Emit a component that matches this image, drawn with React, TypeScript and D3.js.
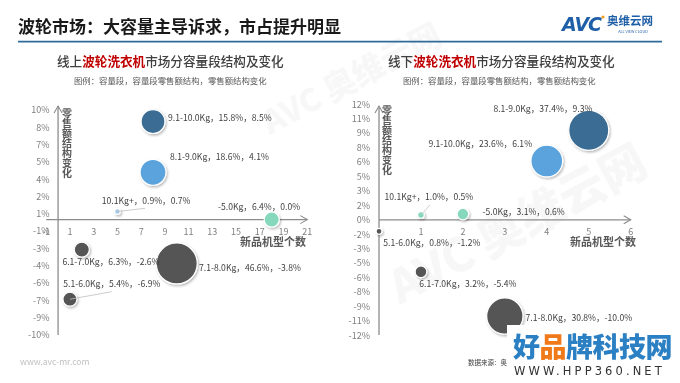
import React from "react";
import * as d3 from "d3";

// ---------- data ----------
const onlineSegments = ["9.1-10.0Kg", "8.1-9.0Kg", "10.1Kg+", "-5.0Kg", "6.1-7.0Kg", "7.1-8.0Kg", "5.1-6.0Kg"];
const onlineModels = [8, 8, 5, 18, 2, 10, 1];
const onlineShare = [15.8, 18.6, 0.9, 6.4, 6.3, 46.6, 5.4];
const onlineChange = [8.5, 4.1, 0.7, 0.0, -2.6, -3.8, -6.9];
const onlineYTicks = ["-10%", "-9%", "-7%", "-6%", "-4%", "-3%", "-1%", "1%", "2%", "4%", "5%", "7%", "8%", "10%"];
const onlineXTicks = [-1, 1, 3, 5, 7, 9, 11, 13, 15, 17, 19, 21];

const offlineSegments = ["8.1-9.0Kg", "9.1-10.0Kg", "10.1Kg+", "-5.0Kg", "5.1-6.0Kg", "6.1-7.0Kg", "7.1-8.0Kg"];
const offlineModels = [5, 4, 1, 2, 0, 1, 3];
const offlineShare = [37.4, 23.6, 1.0, 3.1, 0.8, 3.2, 30.8];
const offlineChange = [9.3, 6.1, 0.5, 0.6, -1.2, -5.4, -10.0];
const offlineYTicks = ["-12%", "-11%", "-9%", "-8%", "-6%", "-5%", "-3%", "-2%", "0%", "2%", "3%", "5%", "6%", "8%", "9%", "11%", "12%"];
const offlineXTicks = [0, 1, 2, 3, 4, 5, 6];

// ---------- styles / layout ----------
const FONT = "'Noto Sans CJK SC', 'Microsoft YaHei', sans-serif";
const C_DARK = "#3a6d94";
const C_LIGHT = "#5aa3dc";
const C_PALE = "#a9c9ea";
const C_MINT = "#86d8bc";
const C_GRAY = "#555555";

type Panel = {
  segments: string[];
  models: number[];
  share: number[];
  change: number[];
  yTicks: string[];
  yTickStart: number;
  yTickStep: number;
  xTicks: number[];
  xDomain: [number, number];
  xRange: [number, number];
  yDomain: [number, number];
  yRange: [number, number];
  yAxisTop: number;
  yAxisBottom: number;
  maxR: number;
  colors: string[];
  labelOffsets: [number, number][];
  leaders: ([number, number] | null)[];
  title: string;
  titleX: number;
  legendX: number;
  yTitleX: number;
  yTitleTop: number;
  xTitleEnd: number;
  yTickX: number;
};

const online: Panel = {
  segments: onlineSegments,
  models: onlineModels,
  share: onlineShare,
  change: onlineChange,
  yTicks: onlineYTicks,
  yTickStart: -10,
  yTickStep: 1.5,
  xTicks: onlineXTicks,
  xDomain: [-1, 21],
  xRange: [46.2, 307.3],
  yDomain: [-10, 9.5],
  yRange: [335, 110],
  yAxisTop: 106,
  yAxisBottom: 335,
  maxR: 20.5,
  colors: [C_DARK, C_LIGHT, C_PALE, C_MINT, C_GRAY, C_GRAY, C_GRAY],
  labelOffsets: [[15, -3.5], [17, -15.5], [-15.6, -10.5], [-53.7, -13.3], [-19.4, 12.3], [22.3, 4.3], [-6.7, -15]],
  leaders: [null, null, [145, 208.3], null, null, null, [111.7, 291.7]],
  title: "线上",
  titleX: 57,
  legendX: 74,
  yTitleX: 67,
  yTitleTop: 108,
  xTitleEnd: 306,
  yTickX: 49.5,
};

const offline: Panel = {
  segments: offlineSegments,
  models: offlineModels,
  share: offlineShare,
  change: offlineChange,
  yTicks: offlineYTicks,
  yTickStart: -12,
  yTickStep: 1.5,
  xTicks: offlineXTicks,
  xDomain: [0, 6],
  xRange: [379, 630.7],
  yDomain: [-12, 12],
  yRange: [335.3, 104.3],
  yAxisTop: 106,
  yAxisBottom: 335,
  maxR: 20,
  colors: [C_DARK, C_LIGHT, C_MINT, C_MINT, C_GRAY, C_GRAY, C_GRAY],
  labelOffsets: [[-95.3, -21.7], [-118.4, -17], [-36.4, -18.2], [19.7, -2.3], [4.3, 11], [-1.7, 12.3], [20.7, 1.3]],
  leaders: [null, null, [430, 205], null, null, null, null],
  title: "线下",
  titleX: 388,
  legendX: 403,
  yTitleX: 387,
  yTitleTop: 105,
  xTitleEnd: 636,
  yTickX: 370,
};

function ChartPanel({ p }: { p: Panel }) {
  const x = d3.scaleLinear().domain(p.xDomain).range(p.xRange);
  const y = d3.scaleLinear().domain(p.yDomain).range(p.yRange);
  const r = d3.scaleSqrt().domain([0, d3.max(p.share) as number]).range([0, p.maxR]);
  const x0 = x(0);
  const y0 = y(0);
  const axisColor = "#8c8c8c";
  const yTitle = "零售额结构变化".split("");
  const order = d3.range(p.segments.length);

  return (
    <g>
      {/* subtitle */}
      <text x={p.titleX} y={66} fontFamily={FONT} fontSize={12.6} fontWeight={500} fill="#404040">
        {p.title}
        <tspan fill="#c00000" fontWeight={700}>波轮洗衣机</tspan>
        市场分容量段结构及变化
      </text>
      <text x={p.legendX} y={84} fontFamily={FONT} fontSize={8.4} fill="#595959">
        图例：容量段，容量段零售额结构，零售额结构变化
      </text>

      {/* x axis */}
      <line x1={p.xRange[0]} x2={p.xRange[1]} y1={y0} y2={y0} stroke={axisColor} strokeWidth={1.3} />
      <path d={`M${p.xRange[1] - 7},${y0 - 4}L${p.xRange[1]},${y0}L${p.xRange[1] - 7},${y0 + 4}`} fill="none" stroke={axisColor} strokeWidth={1.1} />
      {p.xTicks.map((t) => (
        <text key={t} x={x(t)} y={y0 + 15} textAnchor="middle" fontFamily={FONT} fontSize={9} fill="#7f7f7f">
          {t}
        </text>
      ))}
      {/* y axis */}
      <line x1={x0} x2={x0} y1={p.yAxisTop} y2={p.yAxisBottom} stroke={axisColor} strokeWidth={1.3} />
      <path d={`M${x0 - 4},${p.yAxisTop + 7}L${x0},${p.yAxisTop}L${x0 + 4},${p.yAxisTop + 7}`} fill="none" stroke={axisColor} strokeWidth={1.1} />
      {p.yTicks.map((t, i) => (
        <text key={t + i} x={p.yTickX} y={y(p.yTickStart + i * p.yTickStep) + 3.3} textAnchor="end" fontFamily={FONT} fontSize={9} fill="#7f7f7f">
          {t}
        </text>
      ))}

      {/* axis titles */}
      {yTitle.map((ch, i) => (
        <text key={i} x={p.yTitleX} y={p.yTitleTop + 8.5 + i * 10} textAnchor="middle" fontFamily={FONT} fontSize={10} fontWeight={700} fill="#595959">
          {ch}
        </text>
      ))}
      <text x={p.xTitleEnd} y={y0 + 26.5} textAnchor="end" fontFamily={FONT} fontSize={11} fontWeight={700} fill="#595959">
        新品机型个数
      </text>

      {/* bubbles */}
      {order.map((i) => {
        const cx = x(p.models[i]);
        const cy = y(p.change[i]);
        return (
          <circle key={i} cx={cx} cy={cy} r={Math.max(r(p.share[i]), 2.5)} fill={p.colors[i]} stroke="#ffffff" strokeWidth={1.2} filter="url(#bshadow)" />
        );
      })}
      {/* leaders & labels */}
      {order.map((i) => {
        const cx = x(p.models[i]);
        const cy = y(p.change[i]);
        const [dx, dy] = p.labelOffsets[i];
        const ld = p.leaders[i];
        return (
          <g key={"l" + i}>
            {ld && <line x1={cx} y1={cy} x2={ld[0]} y2={ld[1]} stroke="#bfbfbf" strokeWidth={0.8} />}
            <text x={cx + dx} y={cy + dy + 3.2} fontFamily={FONT} fontSize={8.6} fill="#404040">
              {`${p.segments[i]}，${p.share[i].toFixed(1)}%，${p.change[i].toFixed(1)}%`}
            </text>
          </g>
        );
      })}
    </g>
  );
}

export default function App() {
  return (
    <svg width={680} height={383} style={{ position: "absolute", left: 0, top: 0, background: "#ffffff" }}>
      <defs>
        <filter id="bshadow" x="-50%" y="-50%" width="200%" height="200%">
          <feDropShadow dx={1.2} dy={1.5} stdDeviation={1.2} floodColor="#000000" floodOpacity={0.28} />
        </filter>
      </defs>
      <rect width={680} height={383} fill="#ffffff" />

      {/* faint watermarks */}
      <g opacity={0.045} fontFamily={FONT} fontWeight={900} fill="#555">
        <text x={270} y={135} fontSize={32} transform="rotate(-28 270 135)">AVC 奥维云网</text>
        <text x={400} y={305} fontSize={46} transform="rotate(-28 400 305)">AVC 奥维云网</text>
      </g>

      {/* header */}
      <text x={18} y={33} fontFamily={FONT} fontSize={17} fontWeight={700} fill="#1a1a1a">
        波轮市场：大容量主导诉求，市占提升明显
      </text>
      <line x1={18} x2={662} y1={41.7} y2={41.7} stroke="#2e6a9c" strokeWidth={1.8} />
      <text x={562} y={31} fontFamily="'DejaVu Sans', sans-serif" fontSize={19} fontWeight={700} fontStyle="italic" fill="#1f5fa8" letterSpacing={-1}>
        AVC
      </text>
      <circle cx={603} cy={17} r={1.6} fill="#f29b1a" />
      <text x={607} y={25} fontFamily={FONT} fontSize={11.5} fontWeight={700} fill="#1f5fa8">
        奥维云网
      </text>
      <text x={633} y={32.5} textAnchor="middle" fontFamily={FONT} fontSize={3.8} fill="#1f5fa8">
        ALL VIEW CLOUD
      </text>

      <ChartPanel p={online} />
      <ChartPanel p={offline} />

      {/* footer */}
      <text x={20} y={365} fontFamily={FONT} fontSize={8.6} fill="#bfbfbf">
        www.avc-mr.com
      </text>
      <text x={468} y={365} fontFamily={FONT} fontSize={6.5} fill="#404040">
        数据来源：奥
      </text>

      {/* site watermark box */}
      <rect x={507} y={325} width={173} height={58} fill="#ffffff" />
      <text x={513} y={357} fontFamily={FONT} fontSize={27} fontWeight={900} fill="#2b7fc3" letterSpacing={-0.5}>
        好<tspan fill="#f07a1a">品</tspan>牌科技网
      </text>
      <text x={514} y={375} fontFamily="'DejaVu Sans', sans-serif" fontSize={11.5} fontWeight={500} fill="#333333" letterSpacing={3.1}>
        WWW.HPP360.NET
      </text>
    </svg>
  );
}
